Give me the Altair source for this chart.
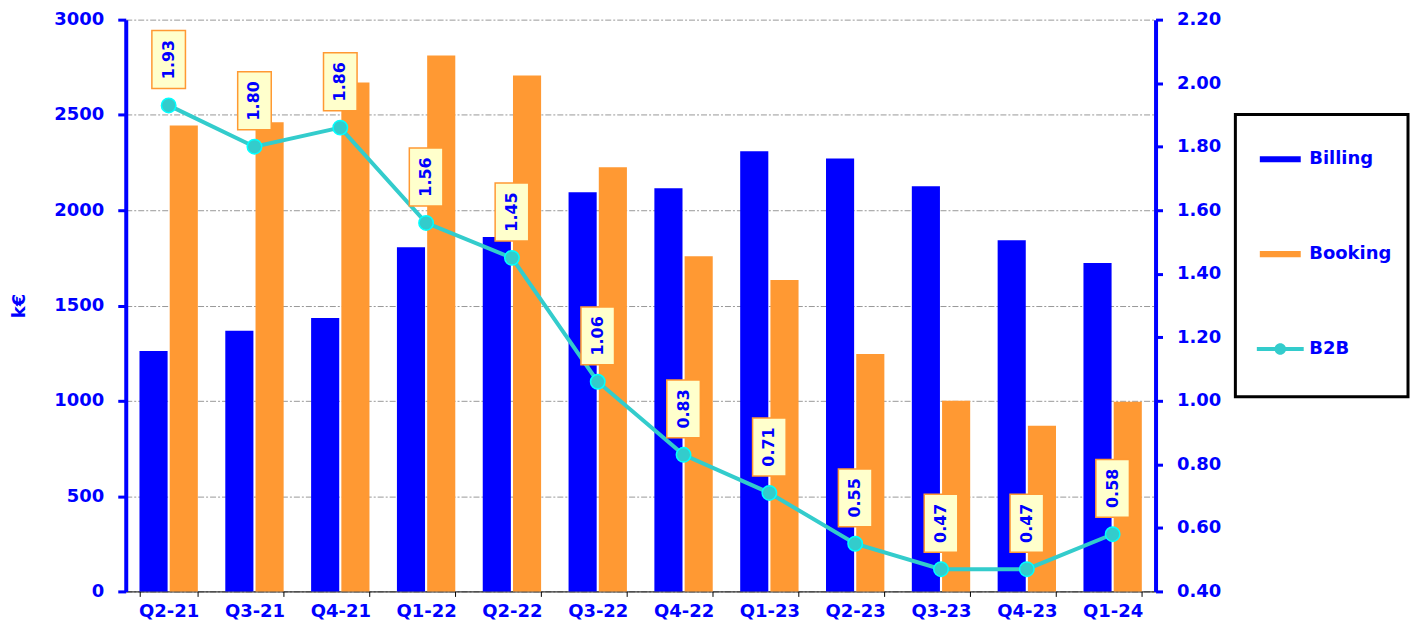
import altair as alt
import pandas as pd

quarters = ["Q2-21", "Q3-21", "Q4-21", "Q1-22", "Q2-22", "Q3-22",
            "Q4-22", "Q1-23", "Q2-23", "Q3-23", "Q4-23", "Q1-24"]
billing = [1262, 1367, 1435, 1806, 1859, 2094, 2115, 2309, 2272, 2126, 1843, 1723]
booking = [2445, 2461, 2670, 2812, 2707, 2225, 1759, 1634, 1246, 1000, 869, 995]
b2b = [1.93, 1.80, 1.86, 1.56, 1.45, 1.06, 0.83, 0.71, 0.55, 0.47, 0.47, 0.58]
b2b_labels = ["1.93", "1.80", "1.86", "1.56", "1.45", "1.06",
              "0.83", "0.71", "0.55", "0.47", "0.47", "0.58"]

series_names = ["Billing", "Booking", "B2B"]
series_colors = ["#0000FF", "#FF9933", "#33CCCC"]
left_ticks = [0, 500, 1000, 1500, 2000, 2500, 3000]
right_ticks = [0.4, 0.6, 0.8, 1.0, 1.2, 1.4, 1.6, 1.8, 2.0, 2.2]

bars_df = pd.DataFrame({
    "quarter": quarters * 2,
    "series": ["Billing"] * len(quarters) + ["Booking"] * len(quarters),
    "value": billing + booking,
})
line_df = pd.DataFrame({"quarter": quarters, "b2b": b2b, "label": b2b_labels})
legend_df = pd.DataFrame({"series": series_names})

FONT = "DejaVu Sans"
BLUE = "#0000FF"

BAR_PATH = "M-0.707,-0.105H0.707V0.105H-0.707Z"
B2B_PATH = ("M-0.81,-0.07H0.81V0.07H-0.81Z "
            "M0.2,0 A0.2,0.2 0 1 1 -0.2,0 A0.2,0.2 0 1 1 0.2,0 Z")
BOX_PATH = "M-0.58,-1H0.58V1H-0.58Z"

x_enc = alt.X(
    "quarter:N", sort=quarters,
    scale=alt.Scale(paddingInner=0.32, paddingOuter=0.16),
    axis=alt.Axis(title=None, labelAngle=0, tickBand="extent",
                  domainColor="black", domainWidth=1, tickColor="black",
                  tickSize=5, labelFont=FONT, labelFontSize=18,
                  labelFontWeight="bold", labelColor=BLUE, labelPadding=6,
                  grid=False),
)

legend = alt.Legend(
    title=" ", titleOrient="bottom", titleFontSize=8, titlePadding=15,
    orient="none", legendX=1112, legendY=95, padding=16,
    rowPadding=57, strokeColor="black",
    labelFont=FONT, labelFontSize=18, labelFontWeight="bold",
    labelColor=BLUE, symbolSize=3364, labelOffset=0, symbolStrokeWidth=0,
)
color_scale = alt.Scale(domain=series_names, range=series_colors)
shape_scale = alt.Scale(domain=series_names, range=[BAR_PATH, BAR_PATH, B2B_PATH])

bars = alt.Chart(bars_df).mark_bar().encode(
    x=x_enc,
    xOffset=alt.XOffset("series:N", sort=["Billing", "Booking"],
                        scale=alt.Scale(paddingInner=0.07)),
    y=alt.Y("value:Q", scale=alt.Scale(domain=[0, 3000], nice=False),
            axis=alt.Axis(values=left_ticks, format="d", title="k€",
                          titleFont=FONT, titleFontSize=18,
                          titleFontWeight="bold", titleColor=BLUE,
                          titlePadding=25, labelFont=FONT, labelFontSize=18,
                          labelFontWeight="bold", labelColor=BLUE,
                          labelPadding=14, tickSize=8, tickWidth=3,
                          tickColor=BLUE, domainColor=BLUE, domainWidth=4,
                          grid=True, gridColor="#999999",
                          gridDash=[6, 2, 2, 2], gridWidth=1)),
    color=alt.Color("series:N", scale=color_scale, legend=legend),
)

legend_layer = alt.Chart(legend_df).mark_point(filled=True, opacity=1).encode(
    color=alt.Color("series:N", scale=color_scale, legend=legend),
    shape=alt.Shape("series:N", scale=shape_scale, legend=legend),
).transform_filter("false")

y_right = alt.Y(
    "b2b:Q", scale=alt.Scale(domain=[0.4, 2.2], nice=False),
    axis=alt.Axis(orient="right", values=right_ticks, format=".2f",
                  title=None, labelFont=FONT, labelFontSize=18,
                  labelFontWeight="bold", labelColor=BLUE, labelPadding=14,
                  tickSize=7, tickWidth=3, tickColor=BLUE,
                  domainColor=BLUE, domainWidth=4, grid=False),
)

base = alt.Chart(line_df).encode(x=x_enc, y=y_right)
line = base.mark_line(color="#33CCCC", strokeWidth=4)
points = base.mark_point(shape="circle", size=210, filled=True,
                         fill="#33CCCC", stroke="#00FFFF",
                         strokeWidth=1.5, opacity=1)
boxes = base.mark_point(shape=BOX_PATH, size=3364, filled=True,
                        fill="#FFFFCC", stroke="#FF9933", strokeWidth=1.5,
                        opacity=1, yOffset=-46)
texts = base.mark_text(angle=270, font=FONT, fontSize=16, fontWeight="bold",
                       color=BLUE, yOffset=-46, align="center",
                       baseline="middle").encode(text="label:N")

right = alt.layer(line, points, boxes, texts)

chart = alt.layer(bars, legend_layer, right).resolve_scale(
    y="independent"
).properties(
    width=1032, height=573,
    padding={"left": 2, "top": 2, "right": 0, "bottom": 2},
).configure_view(stroke=None).configure_legend(strokeWidth=3)

chart.save("out.html", embed_options={"renderer": "svg", "actions": False})
